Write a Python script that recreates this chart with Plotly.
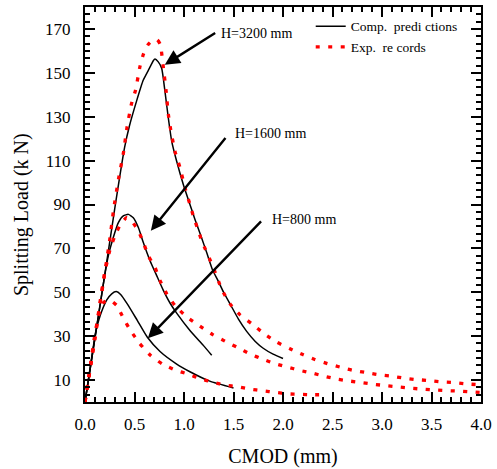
import plotly.graph_objects as go

# ---- data (CMOD in mm, load in kN) ----
comp_3200_x = [0, 0.1, 0.2, 0.3, 0.4, 0.45, 0.52, 0.589, 0.65, 0.69, 0.707, 0.74, 0.775, 0.808, 0.842, 0.876,
               0.926, 0.993, 1.06, 1.11, 1.18, 1.23, 1.29, 1.347, 1.4, 1.465, 1.55, 1.633, 1.72, 1.80, 1.9, 2.0]
comp_3200_y = [0, 29, 58, 88, 116, 126, 137, 146.7, 152, 155.5, 156.3, 155, 152, 141.4, 129.3, 118.8,
               109.7, 99.1, 90, 83.3, 74.5, 68, 60, 55, 50, 44.7, 37.8, 32.2, 27.6, 24.5, 21.8, 19.8]

comp_1600_x = [0, 0.1, 0.2, 0.24, 0.286, 0.337, 0.387, 0.438, 0.488, 0.539, 0.589, 0.657, 0.724, 0.79,
               0.86, 0.926, 1.06, 1.195, 1.28]
comp_1600_y = [0, 29, 58, 67.5, 75, 81.7, 84.8, 85.5, 84, 79.5, 72.7, 64.4, 57.6, 51,
               45, 40.5, 32.6, 25.8, 21.3]

comp_800_x = [0, 0.05, 0.108, 0.14, 0.17, 0.22, 0.27, 0.316, 0.36, 0.427, 0.528, 0.63, 0.758, 0.926,
              1.06, 1.26, 1.5]
comp_800_y = [0, 15, 32, 37.5, 41.5, 46.5, 49.3, 50.3, 49, 44.7, 37.2, 29.5, 23, 17.3,
              13.8, 9.5, 6.4]

exp_3200_x = [0, 0.1, 0.19, 0.25, 0.29, 0.34, 0.39, 0.42, 0.47, 0.51, 0.556, 0.59, 0.64, 0.69, 0.73, 0.76,
              0.79, 0.82, 0.842, 0.866, 0.91, 0.96, 1.01, 1.06, 1.094, 1.145, 1.18, 1.296, 1.38, 1.465,
              1.566, 1.684, 1.818, 1.936, 2.07, 2.2, 2.32, 2.448, 2.576, 2.70, 2.83, 2.95, 3.08, 3.205,
              3.33, 3.46, 3.586, 3.71, 3.84, 4.0]
exp_3200_y = [0, 29, 56, 74, 88, 102, 114, 124, 136, 142, 153, 158.5, 163, 165, 165, 163,
              153, 141.4, 131, 124, 114, 106.7, 97.6, 90, 84.8, 78, 73.4, 61.3, 51.5, 44.7,
              39.7, 35.7, 30.8, 27.3, 24.3, 21.6, 19.4, 17.5, 15.9, 14.5, 13.5, 12.5, 11.9, 11.0,
              10.3, 9.8, 9.2, 8.9, 8.3, 7.8]

exp_1600_x = [0, 0.05, 0.1, 0.15, 0.2, 0.25, 0.3, 0.354, 0.42, 0.47, 0.539, 0.589, 0.64, 0.707, 0.758,
              0.825, 0.909, 1.027, 1.16, 1.29, 1.414, 1.542, 1.667, 1.795, 1.919, 2.047, 2.17, 2.3,
              2.42, 2.55, 2.68, 2.805, 2.93, 3.05, 3.18, 3.31, 3.43, 3.56, 3.69, 3.81, 3.94, 4.0]
exp_1600_y = [0, 14.5, 29, 45, 59, 69, 75.5, 80.5, 84, 82.5, 78, 72.7, 66.6, 61.3, 55.3,
              49.3, 44, 38.8, 34.6, 30.7, 27.7, 24.8, 21.9, 19.5, 17.5, 15.9, 14.4, 13.1,
              11.7, 10.4, 9.5, 8.8, 8.0, 7.4, 6.8, 6.2, 5.8, 5.4, 5.1, 4.9, 4.5, 4.3]

exp_800_x = [0, 0.04, 0.09, 0.14, 0.19, 0.25, 0.32, 0.39, 0.46, 0.55, 0.66, 0.785, 0.916, 1.04, 1.16,
             1.30, 1.42, 1.54, 1.667, 1.795, 1.92, 2.05, 2.17, 2.30, 2.42]
exp_800_y = [0, 12, 28, 40, 45.5, 46.5, 44, 38, 32.6, 26.8, 21.3, 17.2, 14.5, 12.7, 10.7,
             8.9, 7.7, 7.0, 5.9, 5.1, 4.4, 3.7, 3.5, 3.3, 3.3]

labels = ["H=3200 mm", "H=1600 mm", "H=800 mm"]
label_pos = [(1.35, 167.7), (1.49, 122.5), (1.87, 83)]      # text left edge, centre y
arrow_tail = [(1.33, 168.6), (1.431, 121), (1.793, 83)]
arrow_head = [(0.806, 153.7), (0.665, 78), (0.635, 29)]

x_ticks = [0.0, 0.5, 1.0, 1.5, 2.0, 2.5, 3.0, 3.5, 4.0]
y_ticks = [10, 30, 50, 70, 90, 110, 130, 150, 170]

FONT = "Liberation Serif, Times New Roman, serif"

fig = go.Figure()

comp = [(comp_3200_x, comp_3200_y), (comp_1600_x, comp_1600_y), (comp_800_x, comp_800_y)]
exp = [(exp_3200_x, exp_3200_y), (exp_1600_x, exp_1600_y), (exp_800_x, exp_800_y)]

for i, (xs, ys) in enumerate(comp):
    fig.add_trace(go.Scatter(x=xs, y=ys, mode="lines", name="Comp.  predi ctions",
                             legendgroup="comp", showlegend=(i == 0),
                             line=dict(color="black", width=1.5, shape="spline", smoothing=0.5)))
for i, (xs, ys) in enumerate(exp):
    fig.add_trace(go.Scatter(x=xs, y=ys, mode="lines", name="Exp.  re cords",
                             legendgroup="exp", showlegend=(i == 0),
                             line=dict(color="#ff0000", width=3.3, dash="4px,8.5px",
                                       shape="spline", smoothing=0.5)))

annotations = []
for t, (lx, ly), (tx, ty), (hx, hy) in zip(labels, label_pos, arrow_tail, arrow_head):
    annotations.append(dict(x=hx, y=hy, ax=tx, ay=ty, xref="x", yref="y", axref="x", ayref="y",
                            text="", showarrow=True, arrowhead=2, arrowsize=1.25, arrowwidth=2.4,
                            arrowcolor="black", standoff=0, startstandoff=0))
    annotations.append(dict(x=lx, y=ly, xref="x", yref="y", text=t, showarrow=False,
                            xanchor="left", yanchor="middle",
                            font=dict(family=FONT, size=14, color="black")))

# y-axis title placed in paper coordinates (plot area: x 85..482 px, y 5..402 px)
annotations.append(dict(x=(22 - 85) / 397, y=(402 - 214) / 397, xref="paper", yref="paper",
                        text="Splitting Load (k N)", showarrow=False, textangle=-90,
                        xanchor="center", yanchor="middle",
                        font=dict(family=FONT, size=20, color="black")))

axis_common = dict(showline=True, linewidth=2, linecolor="black", mirror="allticks",
                   ticks="inside", tickwidth=1.5, tickcolor="black", ticklen=10,
                   showgrid=False, zeroline=False,
                   tickfont=dict(family=FONT, size=17, color="black"))

fig.update_layout(
    width=497, height=469,
    margin=dict(l=85, r=15, t=5, b=67),
    paper_bgcolor="white", plot_bgcolor="white",
    xaxis=dict(range=[0, 4], tickvals=x_ticks, ticktext=[f"{v:.1f}" for v in x_ticks],
               minor=dict(dtick=0.1, tick0=0, ticks="inside", ticklen=5, tickwidth=1.5, tickcolor="black"),
               ticklabelstandoff=6,
               title=dict(text="CMOD (mm)", font=dict(family=FONT, size=20, color="black"), standoff=16),
               **axis_common),
    yaxis=dict(range=[0, 180], tickvals=y_ticks, ticktext=[str(v) for v in y_ticks],
               minor=dict(dtick=20 / 6, tick0=10, ticks="inside", ticklen=5, tickwidth=1.5, tickcolor="black"),
               ticklabelstandoff=9,
               **axis_common),
    legend=dict(x=0.57, y=0.99, xanchor="left", yanchor="top", bgcolor="rgba(0,0,0,0)",
                font=dict(family=FONT, size=13.5, color="black"), tracegroupgap=0, itemwidth=30),
    annotations=annotations,
    showlegend=True,
)

fig.write_html("out.html", config={"displayModeBar": False},
               post_script="document.body.style.margin='0';document.body.style.overflow='hidden';")
